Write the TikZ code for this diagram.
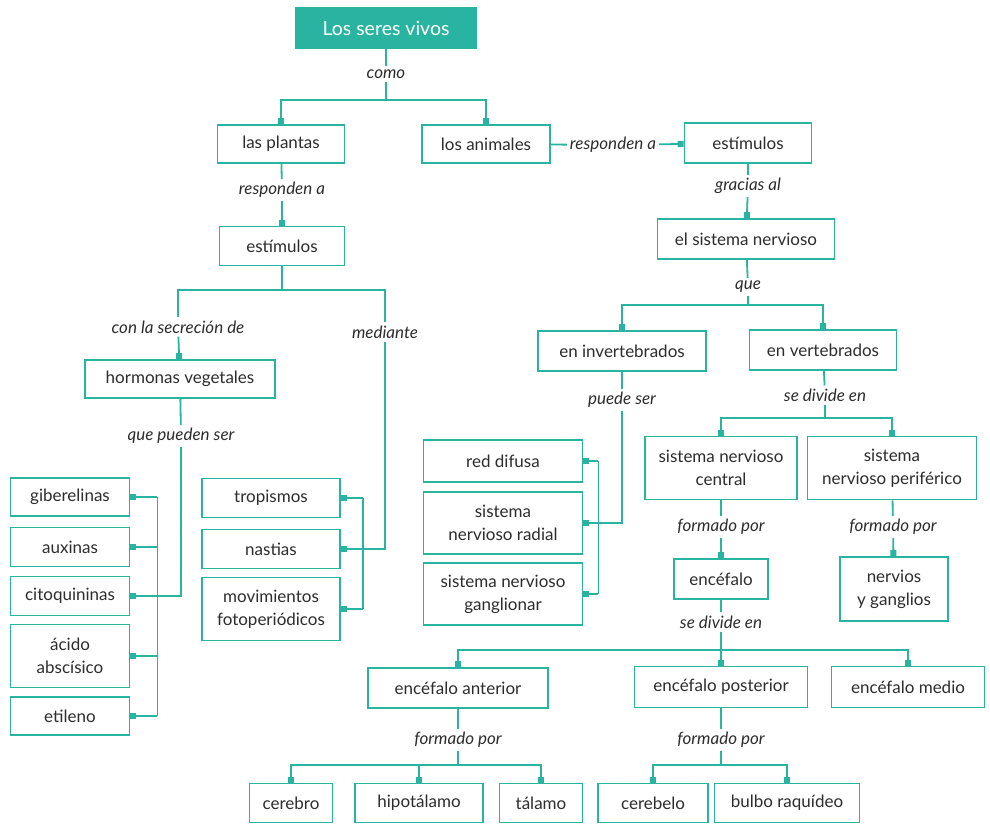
\documentclass[tikz,border=0pt]{standalone}
\usepackage{fontspec}
\setmainfont{Lato}
\usetikzlibrary{arrows.meta, positioning}
\definecolor{mapteal}{RGB}{40,180,160}
\definecolor{maptext}{RGB}{45,45,45}
\tikzset{
  box/.style = {draw=mapteal, line width=1.8pt, fill=white, align=center,
    inner sep=2pt, text=maptext, font=\fontsize{17}{23}\selectfont},
  titlebox/.style = {box, fill=mapteal, text=white, font=\fontsize{19.5}{23}\selectfont},
  rel/.style = {inner sep=3pt, text=maptext, font=\fontsize{17}{20}\selectfont\itshape},
  link/.style = {draw=mapteal, line width=1.8pt},
  tip/.style = {-{Square[length=6pt,width=6pt]}}
}

\begin{document}
\begin{tikzpicture}[x=1pt, y=-1pt]
\useasboundingbox (0,0) rectangle (990,825);

% boxes
\node [titlebox, minimum width=180, minimum height=40] (seres) at (386,28) {Los seres vivos};
\node [box, minimum width=127, minimum height=38] (plantas) at (281,144) {las plantas};
\node [box, minimum width=128, minimum height=38] (animales) at (486,144) {los animales};
\node [box, minimum width=125, minimum height=39] (estp) at (282,246) {estímulos};
\node [box, minimum width=190, minimum height=38] (hormonas) at (180,379) {hormonas vegetales};
\node [box, minimum width=119, minimum height=38] (giber) at (70,497) {giberelinas};
\node [box, minimum width=119, minimum height=39] (auxin) at (70,547) {auxinas};
\node [box, minimum width=119, minimum height=39] (citoq) at (70,596) {citoquininas};
\node [box, minimum width=119, minimum height=63] (acido) at (70,656) {ácido\\abscísico};
\node [box, minimum width=119, minimum height=38] (etil) at (70,716) {etileno};
\node [box, minimum width=138, minimum height=39] (tropis) at (271,498) {tropismos};
\node [box, minimum width=138, minimum height=39] (nastias) at (271,549) {nastias};
\node [box, minimum width=138, minimum height=63] (movim) at (271,609) {movimientos\\fotoperiódicos};

\node [box, minimum width=127, minimum height=40] (esta) at (748,143) {estímulos};
\node [box, minimum width=177, minimum height=40] (sisnerv) at (746,239) {el sistema nervioso};
\node [box, minimum width=168, minimum height=40] (invert) at (622,351) {en invertebrados};
\node [box, minimum width=147, minimum height=40] (vert) at (823,350) {en vertebrados};
\node [box, minimum width=159, minimum height=42] (difusa) at (503,461) {red difusa};
\node [box, minimum width=159, minimum height=62] (radial) at (503,523) {sistema\\nervioso radial};
\node [box, minimum width=159, minimum height=62] (gangl) at (503,594) {sistema nervioso\\ganglionar};
\node [box, minimum width=152, minimum height=63] (snc) at (721,468) {sistema nervioso\\central};
\node [box, minimum width=169, minimum height=63] (snp) at (892,468) {sistema\\nervioso periférico};
\node [box, minimum width=94, minimum height=40] (encef) at (721,579) {encéfalo};
\node [box, minimum width=108, minimum height=64] (nervios) at (894,589) {nervios\\y ganglios};
\node [box, minimum width=180, minimum height=40] (anterior) at (458,688) {encéfalo anterior};
\node [box, minimum width=173, minimum height=41] (posterior) at (721,687) {encéfalo posterior};
\node [box, minimum width=153, minimum height=41] (medio) at (908,687) {encéfalo medio};
\node [box, minimum width=83, minimum height=39] (cerebro) at (291,803) {cerebro};
\node [box, minimum width=128, minimum height=39] (hipot) at (419,803) {hipotálamo};
\node [box, minimum width=83, minimum height=39] (talamo) at (541,803) {tálamo};
\node [box, minimum width=110, minimum height=39] (cerebelo) at (653,803) {cerebelo};
\node [box, minimum width=145, minimum height=39] (bulbo) at (787,803) {bulbo raquídeo};

% linking words
\node [rel] (como) at (386,74) {como};
\node [rel] (resp1) at (282,190) {responden a};
\node [rel] (resp2) at (613,145) {responden a};
\node [rel] (gracias) at (748,186) {gracias al};
\node [rel] (que) at (748,287) {que};
\node [rel] (secrec) at (178,327) {con la secreción de};
\node [rel] (mediante) at (385,332) {mediante};
\node [rel] (pueden) at (181,436) {que pueden ser};
\node [rel] (puede) at (622,400) {puede ser};
\node [rel] (divide1) at (825,395) {se divide en};
\node [rel] (form1) at (721,527) {formado por};
\node [rel] (form2) at (893,527) {formado por};
\node [rel] (divide2) at (721,622) {se divide en};
\node [rel] (form3) at (458,740) {formado por};
\node [rel] (form4) at (721,740) {formado por};

% junctions
\coordinate (j1) at (386,100);
\coordinate (j2) at (282,290);
\coordinate (j3) at (748,305);
\coordinate (j4) at (825,418);
\coordinate (j5) at (721,650);
\coordinate (j6) at (458,765);
\coordinate (j7) at (721,765);

% plants
\draw [link] (seres) -- (como);
\draw [link] (como) -- (j1);
\draw [link, tip] (j1) -| (plantas);
\draw [link, tip] (j1) -| (animales);
\draw [link] (plantas) -- (resp1);
\draw [link, tip] (resp1) -- (estp);
\draw [link] (estp) -- (j2);
\draw [link] (j2) -| (secrec);
\draw [link, tip] (secrec) -- (hormonas);
\draw [link] (j2) -| (mediante);
\draw [link, tip] (mediante) |- (nastias);
\draw [link] (hormonas) -- (pueden);
\draw [link, tip] (pueden) |- (citoq);
\draw [link] (giber.east) ++(27,0) coordinate (g1) -- (etil.east -| g1);
\foreach \n in {giber, auxin, citoq, acido, etil}
  \draw [link, tip] (\n.east -| g1) -- (\n.east);
\draw [link] (tropis.east) ++(22,0) coordinate (g2) -- (movim.east -| g2);
\foreach \n in {tropis, nastias, movim}
  \draw [link, tip] (\n.east -| g2) -- (\n.east);

% animals
\draw [link] (animales) -- (resp2);
\draw [link, tip] (resp2) -- (esta);
\draw [link] (esta) -- (gracias);
\draw [link, tip] (gracias) -- (sisnerv);
\draw [link] (sisnerv) -- (que);
\draw [link] (que) -- (j3);
\draw [link, tip] (j3) -| (invert);
\draw [link, tip] (j3) -| (vert);
\draw [link] (invert) -- (puede);
\draw [link, tip] (puede) |- (radial);
\draw [link] (difusa.east) ++(15,0) coordinate (g3) -- (gangl.east -| g3);
\foreach \n in {difusa, radial, gangl}
  \draw [link, tip] (\n.east -| g3) -- (\n.east);
\draw [link] (vert) -- (divide1);
\draw [link] (divide1) -- (j4);
\draw [link, tip] (j4) -| (snc);
\draw [link, tip] (j4) -| (snp);
\draw [link] (snc) -- (form1);
\draw [link, tip] (form1) -- (encef);
\draw [link] (snp) -- (form2);
\draw [link, tip] (form2) -- (nervios);
\draw [link] (encef) -- (divide2);
\draw [link] (divide2) -- (j5);
\foreach \n in {anterior, posterior, medio}
  \draw [link, tip] (j5) -| (\n);
\draw [link] (anterior) -- (form3);
\draw [link] (form3) -- (j6);
\foreach \n in {cerebro, hipot, talamo}
  \draw [link, tip] (j6) -| (\n);
\draw [link] (posterior) -- (form4);
\draw [link] (form4) -- (j7);
\foreach \n in {cerebelo, bulbo}
  \draw [link, tip] (j7) -| (\n);
\end{tikzpicture}
\end{document}
